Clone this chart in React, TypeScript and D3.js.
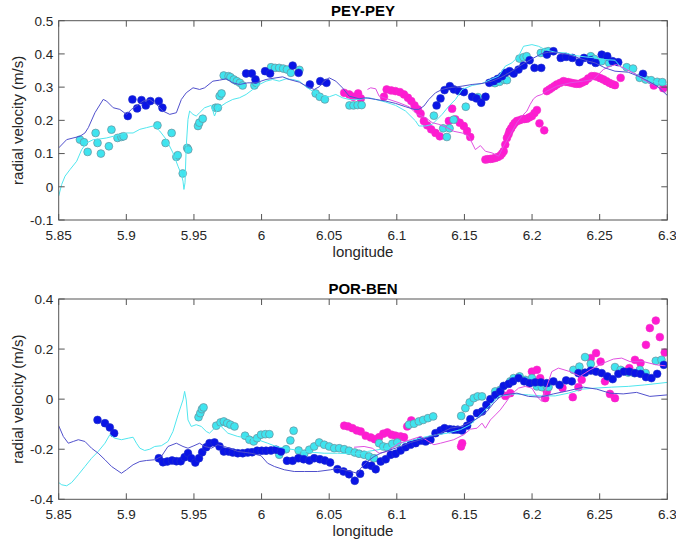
import React from "react";
import * as d3 from "d3";

type P = [number, number];

// ---------- PEY-PEY (top panel) ----------
const peyCyanPts: P[] = [
  [5.8657,0.142],[5.8687,0.134],[5.8714,0.105],[5.8773,0.162],[5.8787,0.132],[5.8812,0.100],[5.8871,0.122],[5.889,0.172],[5.8935,0.147],[5.8964,0.150],[5.898,0.152],
  [5.923,0.185],[5.929,0.132],[5.9335,0.162],[5.937,0.09],[5.938,0.095],[5.9417,0.04],[5.945,0.117],[5.9458,0.112],
  [5.953,0.183],[5.954,0.193],[5.9565,0.205],[5.966,0.238],[5.9677,0.238],[5.969,0.273],[5.9704,0.281],
  [5.972,0.335],[5.9756,0.333],[5.977,0.33],[5.9795,0.323],[5.9817,0.318],[5.984,0.313],[5.986,0.305],
  [5.9947,0.305],[5.996,0.313],
  [6.007,0.36],[6.01,0.358],[6.013,0.358],[6.016,0.356],[6.0188,0.353],[6.0217,0.343],[6.028,0.352],
  [6.04,0.281],[6.043,0.271],[6.0468,0.263],
  [6.065,0.245],[6.068,0.245],[6.071,0.246],[6.074,0.246],
  [6.1274,0.214],[6.1343,0.176],[6.139,0.176],[6.137,0.15],[6.142,0.202],[6.151,0.241],[6.16,0.27],
  [6.1725,0.312],[6.176,0.316],[6.1795,0.322],[6.1814,0.321],
  [6.1907,0.386],[6.1937,0.39],[6.196,0.393],[6.2065,0.403],[6.2097,0.406],[6.212,0.408],
  [6.2434,0.393],[6.246,0.385],[6.2514,0.378],[6.257,0.373],
  [6.27,0.36],[6.2747,0.356],[6.2796,0.328],[6.284,0.323],[6.288,0.321],[6.2925,0.316],[6.2963,0.315],
];

const peyBluePts: P[] = [
  [5.9011,0.213],[5.9045,0.263],[5.908,0.236],[5.9112,0.261],[5.9144,0.245],[5.9178,0.258],[5.924,0.258],[5.9267,0.238],
  [5.9886,0.341],[5.9928,0.341],[5.9955,0.323],[6.0026,0.348],[6.0063,0.341],[6.023,0.365],[6.0274,0.343],
  [6.0357,0.308],[6.0434,0.318],[6.048,0.313],
  [6.1294,0.245],[6.1323,0.266],[6.1353,0.291],[6.1392,0.303],[6.1422,0.293],[6.1459,0.288],[6.1496,0.285],[6.1557,0.271],[6.1589,0.266],[6.1624,0.253],[6.1656,0.271],
  [6.1684,0.313],[6.1716,0.318],[6.1746,0.325],[6.1778,0.333],[6.1802,0.343],[6.1834,0.348],[6.1864,0.341],[6.19,0.353],[6.1937,0.365],[6.1982,0.381],[6.2018,0.358],[6.2068,0.358],
  [6.211,0.398],[6.2158,0.408],[6.2212,0.388],[6.2252,0.391],[6.2298,0.388],[6.235,0.375],[6.2384,0.388],[6.2433,0.381],[6.247,0.373],[6.2515,0.398],[6.2556,0.393],[6.2596,0.378],[6.2637,0.375],[6.282,0.34],
];

const peyMagentaPts: P[] = [
  [6.0611,0.283],[6.0648,0.278],[6.0678,0.271],[6.0714,0.281],[6.0734,0.266],
  [6.0905,0.271],[6.0925,0.293],[6.0959,0.29],[6.099,0.288],[6.1023,0.285],[6.1053,0.278],[6.1082,0.268],[6.1107,0.258],[6.1131,0.245],[6.1156,0.233],[6.1176,0.22],[6.12,0.198],[6.1225,0.185],[6.1254,0.173],[6.1286,0.162],[6.1318,0.152],
  [6.1385,0.198],[6.1409,0.235],[6.1433,0.203],[6.1465,0.193],[6.1495,0.183],[6.1519,0.168],[6.1543,0.15],
  [6.1655,0.082],[6.1672,0.083],[6.1692,0.084],[6.171,0.085],[6.1729,0.087],[6.1748,0.09],[6.1766,0.094],[6.1778,0.1],[6.179,0.107],[6.1802,0.127],[6.1814,0.147],[6.1826,0.158],[6.1834,0.168],[6.1846,0.176],[6.1859,0.185],[6.1872,0.192],[6.1888,0.198],[6.1906,0.2],[6.1925,0.203],[6.1944,0.204],[6.1962,0.205],[6.198,0.209],[6.1999,0.213],[6.2018,0.222],[6.2036,0.231],[6.2055,0.191],[6.209,0.17],
  [6.2109,0.288],[6.2128,0.293],[6.2146,0.298],[6.2165,0.303],[6.2183,0.308],[6.2208,0.313],[6.2232,0.318],[6.225,0.316],[6.2269,0.315],[6.2291,0.313],[6.2313,0.311],[6.2331,0.31],[6.235,0.31],[6.2371,0.314],[6.2392,0.318],[6.2415,0.326],[6.2441,0.333],[6.2462,0.333],[6.2483,0.331],[6.2505,0.327],[6.2527,0.323],[6.2549,0.318],[6.2571,0.313],[6.2592,0.309],[6.2613,0.306],[6.2655,0.328],
  [6.29,0.305],[6.297,0.297],
];

const peyBlueLine: P[] = [
  [5.85,0.117],[5.8559,0.142],[5.8657,0.152],[5.8694,0.162],[5.8719,0.178],[5.8768,0.223],[5.8829,0.263],[5.8854,0.258],[5.8903,0.238],[5.8952,0.233],[5.9001,0.218],[5.9038,0.233],[5.9075,0.243],[5.9124,0.258],[5.9173,0.263],[5.9222,0.248],[5.9271,0.228],[5.9321,0.218],[5.937,0.223],[5.9407,0.263],[5.9443,0.283],[5.9493,0.298],[5.9542,0.293],[5.9579,0.298],[5.964,0.318],[5.9689,0.321],[5.9738,0.325],[5.9787,0.313],[5.9837,0.308],[5.9898,0.313],[5.9959,0.313],[6.0033,0.323],[6.0107,0.328],[6.0156,0.331],[6.0205,0.323],[6.0279,0.315],[6.034,0.301],[6.0389,0.293],[6.0426,0.301],[6.0463,0.318],[6.05,0.328],[6.0549,0.318],[6.0598,0.298],[6.0647,0.273],[6.0721,0.265],[6.077,0.268],[6.0844,0.263],[6.0918,0.258],[6.0991,0.251],[6.1065,0.241],[6.1127,0.233],[6.1163,0.233],[6.12,0.243],[6.1237,0.263],[6.1286,0.283],[6.1335,0.293],[6.1385,0.298],[6.1483,0.303],[6.1557,0.308],[6.163,0.311],[6.1704,0.318],[6.1778,0.331],[6.1851,0.348],[6.1925,0.368],[6.1999,0.385],[6.2072,0.401],[6.2122,0.405],[6.2195,0.403],[6.2269,0.398],[6.2343,0.388],[6.2417,0.378],[6.2466,0.373],[6.2539,0.358],[6.2613,0.348],[6.2711,0.345],[6.2785,0.333],[6.2859,0.318],[6.2932,0.301],[6.3,0.275],
];

const peyCyanLine: P[] = [
  [5.85,-0.028],[5.8522,0.007],[5.8547,0.032],[5.8584,0.052],[5.8633,0.077],[5.867,0.112],[5.8706,0.132],[5.8756,0.142],[5.8805,0.144],[5.8854,0.147],[5.8903,0.152],[5.8952,0.157],[5.9001,0.162],[5.905,0.162],[5.91,0.173],[5.9149,0.178],[5.9198,0.183],[5.9222,0.178],[5.9247,0.168],[5.9296,0.142],[5.9345,0.102],[5.9382,0.062],[5.9407,0.037],[5.9419,0.017],[5.9426,-0.008],[5.9434,0.012],[5.9443,0.122],[5.9456,0.203],[5.9468,0.228],[5.9493,0.218],[5.9517,0.213],[5.9542,0.223],[5.9579,0.238],[5.9628,0.245],[5.9652,0.213],[5.9677,0.238],[5.9701,0.243],[5.9738,0.253],[5.9787,0.263],[5.9837,0.268],[5.9886,0.278],[5.9935,0.293],[5.9984,0.308],[6.0033,0.318],[6.0082,0.323],[6.0131,0.318],[6.0181,0.325],[6.023,0.323],[6.0279,0.318],[6.0328,0.301],[6.0377,0.288],[6.0426,0.278],[6.0463,0.273],[6.05,0.271],[6.0549,0.278],[6.0598,0.268],[6.0647,0.263],[6.0721,0.263],[6.0795,0.268],[6.0844,0.263],[6.0918,0.255],[6.0991,0.245],[6.1065,0.228],[6.1139,0.198],[6.1163,0.183],[6.1213,0.183],[6.1262,0.188],[6.1335,0.218],[6.1385,0.243],[6.1434,0.263],[6.1483,0.293],[6.1557,0.305],[6.163,0.311],[6.1704,0.325],[6.1753,0.333],[6.1802,0.363],[6.1851,0.373],[6.19,0.393],[6.1937,0.423],[6.1999,0.428],[6.2048,0.423],[6.2097,0.413],[6.2171,0.405],[6.2244,0.403],[6.2318,0.395],[6.2392,0.391],[6.2466,0.388],[6.2539,0.383],[6.2613,0.381],[6.2662,0.358],[6.2711,0.353],[6.2785,0.335],[6.2859,0.323],[6.2932,0.313],[6.3,0.308],
];

const peyMagentaLine: P[] = [
  [6.0783,0.293],[6.0807,0.298],[6.0844,0.295],[6.0869,0.273],[6.0942,0.263],[6.1016,0.253],[6.109,0.241],[6.1151,0.218],[6.1213,0.208],[6.1262,0.193],[6.1311,0.188],[6.1372,0.178],[6.1421,0.167],[6.1483,0.162],[6.1532,0.152],[6.1581,0.112],[6.1618,0.124],[6.1655,0.107],[6.1704,0.102],[6.1753,0.092],[6.179,0.122],[6.1839,0.157],[6.1888,0.193],[6.1925,0.213],[6.1962,0.228],[6.1986,0.248],[6.2011,0.265],[6.2036,0.273],[6.2072,0.278],[6.2109,0.288],[6.2183,0.303],[6.2281,0.313],[6.2379,0.318],[6.2453,0.323],[6.2527,0.353],[6.2576,0.363],[6.2625,0.368],[6.2699,0.353],[6.2772,0.338],[6.2821,0.323],[6.287,0.313],[6.2919,0.303],[6.2987,0.283],
];

// ---------- POR-BEN (bottom panel) ----------
const porBluePts: P[] = [
  [5.8787,-0.083],[5.8842,-0.096],[5.8878,-0.113],[5.891,-0.136],
  [5.924,-0.236],[5.9271,-0.252],[5.9303,-0.249],[5.9338,-0.245],[5.937,-0.248],[5.9402,-0.248],[5.9431,-0.232],[5.9456,-0.216],[5.948,-0.236],[5.951,-0.253],[5.9537,-0.236],[5.9561,-0.212],[5.9591,-0.192],[5.9615,-0.176],
  [5.9652,-0.173],[5.9689,-0.189],[5.9721,-0.209],[5.9756,-0.209],[5.9787,-0.213],[5.9824,-0.216],[5.9861,-0.216],[5.9898,-0.213],[5.993,-0.212],[5.9967,-0.206],[6.0001,-0.206],[6.0033,-0.206],[6.007,-0.205],[6.0107,-0.202],[6.0144,-0.209],[6.0188,-0.246],[6.023,-0.246],[6.0272,-0.236],[6.0311,-0.24],[6.0353,-0.245],[6.0389,-0.236],[6.0431,-0.24],[6.0468,-0.245],[6.0507,-0.253],[6.0561,-0.28],[6.0606,-0.289],[6.0647,-0.3],[6.0689,-0.326],
  [6.0729,-0.298],[6.077,-0.262],[6.0812,-0.266],[6.0844,-0.28],[6.0881,-0.249],[6.0918,-0.24],[6.0955,-0.222],[6.0991,-0.218],[6.1028,-0.205],[6.1065,-0.192],[6.1102,-0.182],[6.1139,-0.176],[6.1176,-0.166],[6.1213,-0.169],[6.1249,-0.162],[6.1286,-0.136],[6.1323,-0.125],[6.1353,-0.116],[6.1392,-0.12],[6.1421,-0.122],[6.1451,-0.122],[6.1483,-0.125],[6.152,-0.106],[6.1544,-0.08],[6.1593,-0.056],[6.163,-0.049],[6.1662,-0.023],[6.1692,0.0],[6.1729,0.017],[6.1765,0.031],
  [6.179,0.053],[6.1827,0.061],[6.1859,0.071],[6.19,0.084],[6.1942,0.071],[6.1982,0.064],[6.2023,0.067],[6.2065,0.067],[6.2109,0.064],[6.2158,0.071],[6.2203,0.057],[6.2252,0.075],[6.2294,0.071],[6.2343,0.104],[6.2392,0.106],[6.2434,0.114],[6.2473,0.11],[6.2515,0.104],[6.2557,0.091],[6.2596,0.08],[6.2638,0.101],[6.2679,0.11],[6.2719,0.11],[6.2761,0.104],[6.2802,0.101],[6.2842,0.088],[6.2883,0.084],[6.2925,0.101],[6.2974,0.137],
];

const porCyanPts: P[] = [
  [5.9534,-0.072],[5.9547,-0.056],[5.9559,-0.04],[5.9571,-0.033],
  [5.9665,-0.106],[5.9697,-0.093],[5.9721,-0.089],[5.9746,-0.096],[5.977,-0.102],[5.98,-0.109],
  [5.9878,-0.146],[5.991,-0.162],[5.9942,-0.169],[5.9967,-0.156],[5.9996,-0.142],[6.0028,-0.14],[6.0058,-0.14],
  [6.0131,-0.222],[6.0181,-0.2],[6.0213,-0.165],[6.0237,-0.126],[6.0274,-0.205],[6.0316,-0.218],[6.0353,-0.202],[6.0389,-0.189],[6.0426,-0.173],[6.0463,-0.182],[6.05,-0.189],[6.0537,-0.196],[6.0574,-0.196],[6.0611,-0.2],[6.0647,-0.206],[6.0689,-0.213],[6.0721,-0.218],[6.0758,-0.222],[6.0795,-0.229],[6.0832,-0.236],
  [6.0869,-0.176],[6.09,-0.189],[6.093,-0.192],[6.0967,-0.178],[6.1004,-0.173],
  [6.109,-0.102],[6.1127,-0.098],[6.1163,-0.089],[6.1195,-0.083],[6.123,-0.076],[6.1269,-0.069],
  [6.1476,-0.067],[6.1507,-0.036],[6.1539,-0.013],[6.1569,0.004],[6.1598,0.011],[6.163,0.011],
  [6.1728,0.031],[6.1765,0.037],[6.1839,0.071],[6.1864,0.084],[6.1908,0.091],[6.195,0.077],[6.1999,0.084],[6.2036,0.051],[6.2072,0.048],[6.2109,0.051],[6.2122,0.048],
  [6.2306,0.117],[6.235,0.13],[6.2392,0.168],[6.2434,0.141],[6.2613,0.128],[6.2655,0.117],[6.2711,0.106],[6.2755,0.104],[6.2797,0.117],[6.284,0.104],[6.2915,0.153],[6.2957,0.157],
];

const porMagentaPts: P[] = [
  [6.0611,-0.106],[6.064,-0.109],[6.0672,-0.116],[6.0704,-0.125],[6.0733,-0.129],[6.077,-0.146],[6.0807,-0.153],[6.0837,-0.16],[6.0869,-0.152],[6.09,-0.138],[6.093,-0.133],[6.0962,-0.142],[6.0991,-0.146],[6.1028,-0.149],[6.1053,-0.152],[6.1077,-0.109],[6.1107,-0.085],
  [6.1475,-0.189],[6.1483,-0.176],
  [6.1802,0.013],[6.1839,0.024],[6.1999,0.11],[6.2036,0.117],[6.206,0.084],[6.2097,0.004],[6.2109,0.031],[6.2225,0.045],[6.2301,0.008],[6.2343,0.048],[6.2367,0.077],[6.2434,0.164],[6.2473,0.184],[6.2507,0.15],[6.2539,0.071],[6.2576,0.021],[6.2613,0.004],[6.2719,0.124],[6.2761,0.157],[6.2802,0.144],[6.2842,0.217],[6.2871,0.284],[6.2915,0.314],[6.2945,0.248],[6.2981,0.186],
];

const porBlueLine: P[] = [
  [5.85,-0.106],[5.8534,-0.149],[5.8571,-0.176],[5.8608,-0.169],[5.8645,-0.162],[5.8694,-0.169],[5.8743,-0.196],[5.8792,-0.216],[5.8842,-0.242],[5.8891,-0.269],[5.8964,-0.296],[5.9001,-0.282],[5.905,-0.262],[5.91,-0.249],[5.9149,-0.245],[5.921,-0.242],[5.9259,-0.229],[5.9308,-0.189],[5.937,-0.176],[5.9419,-0.189],[5.9456,-0.196],[5.95,-0.186],[5.9542,-0.176],[5.9579,-0.189],[5.9628,-0.196],[5.9677,-0.182],[5.9726,-0.189],[5.9824,-0.209],[5.9923,-0.216],[5.9996,-0.226],[6.0045,-0.256],[6.0095,-0.269],[6.0168,-0.282],[6.0242,-0.289],[6.0316,-0.289],[6.0414,-0.289],[6.0512,-0.282],[6.0561,-0.276],[6.0611,-0.282],[6.066,-0.289],[6.0709,-0.296],[6.0733,-0.276],[6.0783,-0.249],[6.0832,-0.229],[6.0881,-0.216],[6.0955,-0.202],[6.1028,-0.189],[6.1102,-0.173],[6.1176,-0.162],[6.1249,-0.149],[6.1323,-0.136],[6.1397,-0.116],[6.147,-0.109],[6.152,-0.098],[6.1569,-0.085],[6.1618,-0.069],[6.1667,-0.049],[6.1716,-0.016],[6.1753,0.004],[6.179,0.017],[6.1888,0.024],[6.1974,0.011],[6.206,0.008],[6.2158,0.021],[6.2281,0.035],[6.238,0.048],[6.2478,0.04],[6.2576,0.024],[6.2674,0.021],[6.2773,0.027],[6.2871,0.011],[6.3,0.017],
];

const porCyanLine: P[] = [
  [5.85,-0.333],[5.8522,-0.342],[5.8559,-0.346],[5.8596,-0.333],[5.8645,-0.302],[5.8694,-0.269],[5.8743,-0.236],[5.8792,-0.209],[5.8842,-0.176],[5.8878,-0.142],[5.8915,-0.156],[5.8964,-0.162],[5.9014,-0.156],[5.905,-0.152],[5.9075,-0.176],[5.91,-0.196],[5.9136,-0.205],[5.9173,-0.2],[5.921,-0.189],[5.9259,-0.186],[5.9308,-0.169],[5.9345,-0.129],[5.9382,-0.063],[5.9419,-0.003],[5.9431,0.031],[5.9443,-0.003],[5.9456,-0.083],[5.948,-0.109],[5.9517,-0.102],[5.9554,-0.109],[5.9591,-0.129],[5.9615,-0.136],[5.9652,-0.116],[5.9701,-0.109],[5.9751,-0.136],[5.9824,-0.149],[5.9898,-0.156],[5.9972,-0.162],[6.0045,-0.176],[6.0107,-0.189],[6.0168,-0.196],[6.0242,-0.202],[6.0316,-0.209],[6.0389,-0.213],[6.0463,-0.216],[6.0561,-0.216],[6.066,-0.218],[6.0721,-0.218],[6.0783,-0.209],[6.093,-0.196],[6.1028,-0.176],[6.1127,-0.162],[6.1225,-0.149],[6.1298,-0.142],[6.1372,-0.136],[6.147,-0.122],[6.1544,-0.102],[6.1618,-0.063],[6.1692,-0.023],[6.1753,0.011],[6.1876,0.021],[6.1974,0.017],[6.2072,0.013],[6.2171,0.013],[6.2269,0.024],[6.2367,0.04],[6.2466,0.044],[6.2589,0.048],[6.2711,0.051],[6.2834,0.057],[6.3,0.067],
];

const porMagentaLine: P[] = [
  [6.0684,-0.192],[6.0758,-0.189],[6.0819,-0.196],[6.0869,-0.216],[6.093,-0.209],[6.1016,-0.176],[6.1102,-0.162],[6.1176,-0.149],[6.1274,-0.182],[6.1323,-0.176],[6.1421,-0.162],[6.1495,-0.142],[6.1544,-0.12],[6.1593,-0.116],[6.163,-0.096],[6.1655,-0.116],[6.1692,-0.083],[6.1729,-0.063],[6.1765,-0.043],[6.1802,-0.016],[6.1851,0.021],[6.19,0.044],[6.195,0.051],[6.1999,0.044],[6.2036,0.011],[6.2072,-0.009],[6.2146,0.11],[6.2195,0.124],[6.2281,0.11],[6.2355,0.091],[6.2429,0.117],[6.2527,0.144],[6.2601,0.16],[6.2663,0.164],[6.2724,0.15],[6.2822,0.15],[6.292,0.137],[6.2987,0.133],
];

const xTicks = [5.85, 5.9, 5.95, 6, 6.05, 6.1, 6.15, 6.2, 6.25, 6.3];
const xTickLabels = ["5.85", "5.9", "5.95", "6", "6.05", "6.1", "6.15", "6.2", "6.25", "6.3"];
const peyYTicks = [-0.1, 0, 0.1, 0.2, 0.3, 0.4, 0.5];
const peyYTickLabels = ["-0.1", "0", "0.1", "0.2", "0.3", "0.4", "0.5"];
const porYTicks = [-0.4, -0.2, 0, 0.2, 0.4];
const porYTickLabels = ["-0.4", "-0.2", "0", "0.2", "0.4"];

const W = 676;
const H = 547;
const LEFT = 58.7;
const RIGHT = 667.3;
const FONT = "'Liberation Sans', Arial, Helvetica, sans-serif";
const TEXT = "#262626";
const AXIS = "#555";

const C_BLUE = "#0a14e6";
const C_BLUE_EDGE = "#2233c8";
const C_CYAN = "#3fe4ef";
const C_CYAN_EDGE = "#6b8f9c";
const C_MAG = "#ff1ad2";
const C_MAG_EDGE = "#f030c8";
const L_BLUE = "#5050cc";
const L_CYAN = "#50e6ee";
const L_MAG = "#e050e0";

interface PanelProps {
  title: string;
  top: number;
  bottom: number;
  yDomain: [number, number];
  yTicks: number[];
  yTickLabels: string[];
  blue: P[];
  cyan: P[];
  magenta: P[];
  blueLine: P[];
  cyanLine: P[];
  magentaLine: P[];
  clipId: string;
}

function Panel(p: PanelProps) {
  const x = d3.scaleLinear().domain([5.85, 6.3]).range([LEFT, RIGHT]);
  const y = d3.scaleLinear().domain(p.yDomain).range([p.bottom, p.top]);
  const line = d3
    .line<P>()
    .x((d) => x(d[0]))
    .y((d) => y(d[1]));
  const tl = 6;
  const r = 3.9;
  return (
    <g>
      <defs>
        <clipPath id={p.clipId}>
          <rect x={LEFT} y={p.top} width={RIGHT - LEFT} height={p.bottom - p.top} />
        </clipPath>
      </defs>
      <g clipPath={`url(#${p.clipId})`}>
        {p.magenta.map((d, i) => (
          <circle key={"m" + i} cx={x(d[0])} cy={y(d[1])} r={r} fill={C_MAG} stroke={C_MAG_EDGE} strokeWidth={0.6} />
        ))}
        {p.cyan.map((d, i) => (
          <circle key={"c" + i} cx={x(d[0])} cy={y(d[1])} r={r} fill={C_CYAN} stroke={C_CYAN_EDGE} strokeWidth={0.7} />
        ))}
        {p.blue.map((d, i) => (
          <circle key={"b" + i} cx={x(d[0])} cy={y(d[1])} r={r} fill={C_BLUE} stroke={C_BLUE_EDGE} strokeWidth={0.6} />
        ))}
        <path d={line(p.cyanLine) || ""} fill="none" stroke={L_CYAN} strokeWidth={1} />
        <path d={line(p.magentaLine) || ""} fill="none" stroke={L_MAG} strokeWidth={1} />
        <path d={line(p.blueLine) || ""} fill="none" stroke={L_BLUE} strokeWidth={1} />
      </g>
      <rect x={LEFT} y={p.top} width={RIGHT - LEFT} height={p.bottom - p.top} fill="none" stroke={AXIS} strokeWidth={1} />
      {xTicks.map((t, i) => (
        <g key={"xt" + i}>
          <line x1={x(t)} x2={x(t)} y1={p.bottom} y2={p.bottom - tl} stroke={AXIS} strokeWidth={1} />
          <line x1={x(t)} x2={x(t)} y1={p.top} y2={p.top + tl} stroke={AXIS} strokeWidth={1} />
          <text x={x(t)} y={p.bottom + 19.5} textAnchor="middle" fontSize={13.5} fill={TEXT} fontFamily={FONT}>
            {xTickLabels[i]}
          </text>
        </g>
      ))}
      {p.yTicks.map((t, i) => (
        <g key={"yt" + i}>
          <line x1={LEFT} x2={LEFT + tl} y1={y(t)} y2={y(t)} stroke={AXIS} strokeWidth={1} />
          <line x1={RIGHT} x2={RIGHT - tl} y1={y(t)} y2={y(t)} stroke={AXIS} strokeWidth={1} />
          <text x={LEFT - 5.5} y={y(t) + 4.8} textAnchor="end" fontSize={13.5} fill={TEXT} fontFamily={FONT}>
            {p.yTickLabels[i]}
          </text>
        </g>
      ))}
      <text x={(LEFT + RIGHT) / 2} y={p.top - 5} textAnchor="middle" fontSize={15} fontWeight="bold" fill="#000" fontFamily={FONT}>
        {p.title}
      </text>
      <text x={(LEFT + RIGHT) / 2} y={p.bottom + 37} textAnchor="middle" fontSize={15} fill={TEXT} fontFamily={FONT}>
        longitude
      </text>
      <text
        transform={`translate(23,${(p.top + p.bottom) / 2}) rotate(-90)`}
        textAnchor="middle"
        fontSize={15}
        fill={TEXT}
        fontFamily={FONT}
      >
        radial velocity (m/s)
      </text>
    </g>
  );
}

export default function App() {
  return (
    <svg
      width={W}
      height={H}
      viewBox={`0 0 ${W} ${H}`}
      style={{ position: "absolute", left: 0, top: 0, background: "#fff" }}
    >
      <rect x={0} y={0} width={W} height={H} fill="#fff" />
      <Panel
        title="PEY-PEY"
        top={20.7}
        bottom={220}
        yDomain={[-0.1, 0.5]}
        yTicks={peyYTicks}
        yTickLabels={peyYTickLabels}
        blue={peyBluePts}
        cyan={peyCyanPts}
        magenta={peyMagentaPts}
        blueLine={peyBlueLine}
        cyanLine={peyCyanLine}
        magentaLine={peyMagentaLine}
        clipId="clipTop"
      />
      <Panel
        title="POR-BEN"
        top={299}
        bottom={499.3}
        yDomain={[-0.4, 0.4]}
        yTicks={porYTicks}
        yTickLabels={porYTickLabels}
        blue={porBluePts}
        cyan={porCyanPts}
        magenta={porMagentaPts}
        blueLine={porBlueLine}
        cyanLine={porCyanLine}
        magentaLine={porMagentaLine}
        clipId="clipBot"
      />
    </svg>
  );
}
